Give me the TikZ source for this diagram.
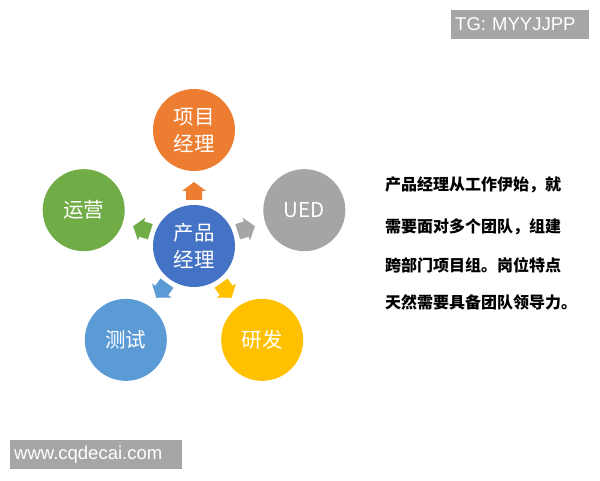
\documentclass[tikz,border=0pt]{standalone}
\usepackage{fontspec}
\setmainfont{Liberation Sans}
\newfontfamily\cjk{Noto Sans CJK SC}
\usetikzlibrary{calc}
\definecolor{corange}{HTML}{ED7D31}
\definecolor{cgrey}{HTML}{A5A5A5}
\definecolor{cgreen}{HTML}{70AD47}
\definecolor{cdark}{HTML}{4472C4}
\definecolor{cblue}{HTML}{5B9BD5}
\definecolor{cyellow}{HTML}{FFC000}
\definecolor{wmgrey}{HTML}{A6A6A6}
\tikzset{
  ball/.style={circle, minimum size=82pt, inner sep=0pt, text=white, align=center,
    font=\cjk\fontsize{20.5}{27}\selectfont},
  desc/.style={anchor=west, inner sep=0pt, font=\cjk\bfseries\fontsize{16}{18}\selectfont},
  wm/.style={fill=wmgrey, text=white, text width=#1, align=left, inner xsep=4pt,
    minimum height=29pt, inner ysep=0pt, anchor=west, font=\fontsize{18.5}{20}\selectfont},
}
\begin{document}
\begin{tikzpicture}[x=1pt,y=1pt]
\useasboundingbox (0,0) rectangle (600,480);
\fill[white] (0,0) rectangle (600,480);
\coordinate (o) at (194,234);
\node[ball, fill=cdark] (pm) at (o) {产品\\经理};
\node[ball, fill=corange] (xm) at ($(o)+(90:116)$) {项目\\经理};
\node[ball, fill=cgrey] (ued) at ($(o)+(18:116)$) {UED};
\node[ball, fill=cgreen] (yy) at ($(o)+(162:116)$) {运营};
\node[ball, fill=cblue] (cs) at ($(o)+(-126:116)$) {测试};
\node[ball, fill=cyellow] (yf) at ($(o)+(-54:116)$) {研发};
\foreach \a/\c in {90/corange, 18/cgrey, 162/cgreen, -54/cyellow, -126/cblue}{
  \fill[\c, shift={(pm.center)}, rotate=\a]
    (46,-8) -- (55,-8) -- (55,-12) -- (64,0) -- (55,12) -- (55,8) -- (46,8) -- cycle;
}
\node[desc] (l1) at (385,295) {产品经理从工作伊始，就};
\node[desc] (l2) at (385,253.5) {需要面对多个团队，组建};
\node[desc] (l3) at (385,214.5) {跨部门项目组。岗位特点};
\node[desc] (l4) at (385,177.5) {天然需要具备团队领导力。};
\node[wm=130pt] (tg) at (451,455.5) {TG: MYYJJPP};
\node[wm=164pt] (www) at (10,25.5) {www.cqdecai.com};
\end{tikzpicture}
\end{document}
